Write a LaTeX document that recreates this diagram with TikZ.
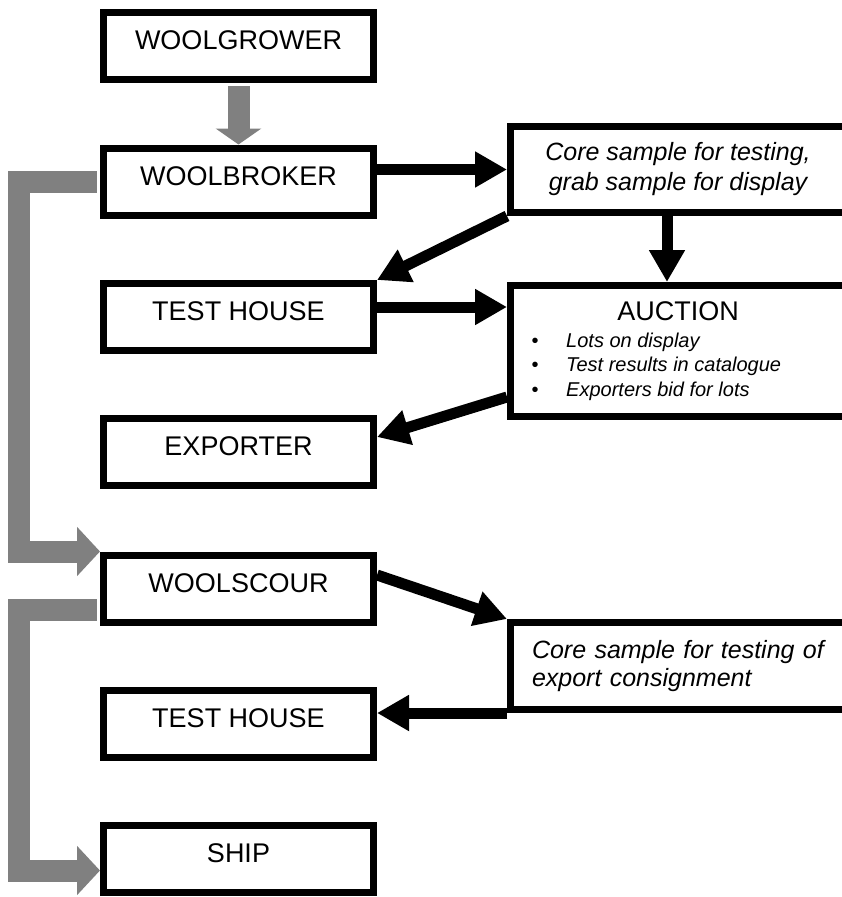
\documentclass[tikz,border=0pt]{standalone}
\usepackage{fontspec}
\setmainfont{Liberation Sans}
\usetikzlibrary{arrows.meta}
\definecolor{woolgray}{RGB}{128,128,128}

\begin{document}
\begin{tikzpicture}[x=1pt,y=-1pt,
  stage/.style={draw,line width=7pt,minimum width=270pt,minimum height=67pt,
    text height=18pt,text depth=11pt,font=\fontsize{27}{32}\selectfont},
  note/.style={draw,line width=7pt,minimum width=335pt,
    font=\fontsize{25}{30}\selectfont\itshape},
  flow/.style={line width=11pt,-{Triangle[length=32pt,width=34pt]}},
  wool/.style={woolgray,line width=22pt,shorten <=3.5pt,
    -{Triangle[length=23pt,width=48pt]}}]
  \useasboundingbox (0,0) rectangle (841,897);
  \node[stage] (grower) at (238.5,45.5) {WOOLGROWER};
  \node[stage] (broker) at (238.5,181.5) {WOOLBROKER};
  \node[stage] (test) at (238.5,317) {TEST HOUSE};
  \node[stage] (exporter) at (238.5,452) {EXPORTER};
  \node[stage] (scour) at (238.5,588.5) {WOOLSCOUR};
  \node[stage] (retest) at (238.5,723.5) {TEST HOUSE};
  \node[stage] (ship) at (238.5,858.5) {SHIP};
  \node[note,minimum height=86pt,align=center] (sampling) at (678,169.5)
    {Core sample for testing,\\grab sample for display};
  \node[note,minimum height=131pt] (auction) at (678,351) {};
  \node[anchor=base,font=\fontsize{27}{32}\selectfont] (auctiontitle) at (678,320) {AUCTION};
  \foreach \lotitem [count=\i] in {Lots on display,Test results in catalogue,Exporters bid for lots} {
    \node[anchor=base,inner sep=0pt,font=\fontsize{20}{24}\selectfont] (bullet\i)
      at (535,322.5+24.5*\i) {\textbullet};
    \node[anchor=base west,inner sep=0pt,font=\fontsize{20}{24}\selectfont\itshape] (lot\i)
      at (566,322.5+24.5*\i) {\lotitem};
  }
  \node[note,minimum height=87pt,align=left,text width=292pt,inner xsep=21.5pt,
    font=\fontsize{25}{28}\selectfont\itshape] (consign) at (678,666)
    {Core sample for testing of\\export consignment};
  % wool moving between stages
  \draw[wool,-{Triangle[length=16pt,width=45pt]}] (grower) -- (broker);
  \draw[wool] (broker.west) -- ++(-81,0) |- (scour.north west);
  \draw[wool] ([yshift=-21.5pt]scour.west) -- ++(-81,0) |- ([yshift=-12pt]ship.west);
  % samples and sale
  \draw[flow] (broker.east |- sampling.west) -- (sampling.west);
  \draw[flow] (sampling.south west) -- (test.north east);
  \draw[flow] ([xshift=-11pt]sampling.south) -- ([xshift=-11pt]sampling.south |- auction.north);
  \path ([yshift=10pt]test.east) coordinate (testout);
  \draw[flow] (testout) -- (testout -| auction.west);
  \draw[flow] ([yshift=-46pt]auction.west) -- ([yshift=15pt]exporter.east);
  \draw[flow] ([yshift=13.5pt]scour.east) -- (consign.north west);
  \draw[flow] (consign.south west) -- (consign.south west -| retest.east);
\end{tikzpicture}
\end{document}
